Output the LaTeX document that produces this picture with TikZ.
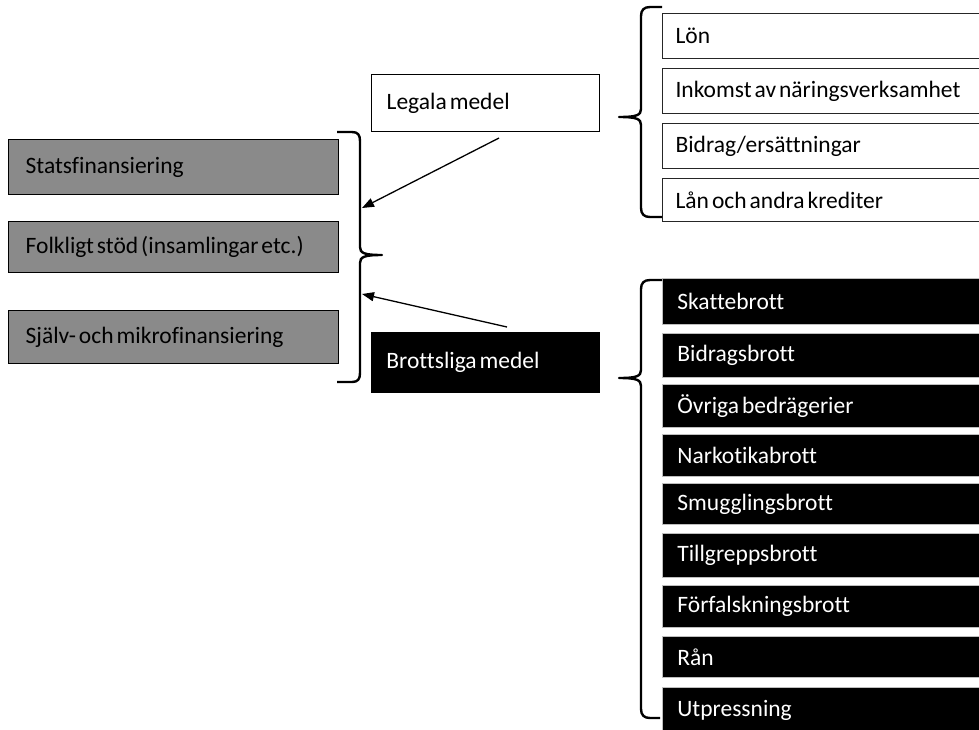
\documentclass[tikz,border=0pt]{standalone}
\usepackage{fontspec}
\setmainfont{Carlito}[Ligatures={NoCommon}]
\usetikzlibrary{arrows.meta}
\definecolor{boxgrey}{RGB}{138,138,138}
\definecolor{edgegrey}{RGB}{190,190,190}
\newcommand{\tightspacing}{\spaceskip=3pt plus 0.5pt\relax\xspaceskip=3pt plus 0.5pt\relax}
\tikzset{
  basebox/.style={anchor=north west, inner ysep=0pt, align=left,
    font=\fontsize{23.5}{27}\selectfont, execute at begin node=\tightspacing},
  greybox/.style={basebox, fill=boxgrey, draw=black, line width=1.4pt, text=black},
  whitebox/.style={basebox, fill=white, draw=black!85, line width=1.1pt, text=black},
  blackbox/.style={basebox, fill=black, draw=edgegrey, line width=0.8pt, text=white},
  bracestyle/.style={draw=black, line width=2.4pt, line join=round},
  conn/.style={draw=black, line width=1.3pt, -{Triangle[length=12pt,width=9pt]}}
}
\begin{document}
\begin{tikzpicture}[x=1pt,y=-1pt]
\useasboundingbox (0,0) rectangle (979,729);
% left grey boxes
\node[greybox, text width=296pt, inner xsep=17pt, minimum height=55pt] (stats) at (8,139) {Statsfinansiering};
\node[greybox, text width=296pt, inner xsep=17pt, minimum height=51pt] (folk) at (8,221) {Folkligt stöd (insamlingar etc.)};
\node[greybox, text width=296pt, inner xsep=17pt, minimum height=53pt] (sjalv) at (8,310) {Själv- och mikrofinansiering};
% middle boxes
\node[whitebox, draw=black, line width=1.3pt, text width=198pt, inner xsep=15pt, minimum height=57pt] (legal) at (371,74) {Legala medel};
\node[blackbox, draw=black, text width=198pt, inner xsep=15pt, minimum height=60pt] (brott) at (371,332) {Brottsliga medel};
% top right white boxes
\node[whitebox, text width=304pt, inner xsep=13pt, minimum height=45pt] (lon) at (662,13) {Lön};
\node[whitebox, text width=304pt, inner xsep=13pt, minimum height=45pt] (inkomst) at (662,68) {Inkomst av näringsverksamhet};
\node[whitebox, text width=304pt, inner xsep=13pt, minimum height=45pt] (bidrag) at (662,123) {Bidrag/ersättningar};
\node[whitebox, text width=304pt, inner xsep=13pt, minimum height=43pt] (lan) at (662,178) {Lån och andra krediter};
% bottom right black boxes
\node[blackbox, text width=300pt, inner xsep=15pt, minimum height=46pt] (skatte) at (662,278) {Skattebrott};
\node[blackbox, text width=300pt, inner xsep=15pt, minimum height=44pt] (bidragsb) at (662,333) {Bidragsbrott};
\node[blackbox, text width=300pt, inner xsep=15pt, minimum height=43pt] (ovriga) at (662,384) {Övriga bedrägerier};
\node[blackbox, text width=300pt, inner xsep=15pt, minimum height=42pt] (narko) at (662,434) {Narkotikabrott};
\node[blackbox, text width=300pt, inner xsep=15pt, minimum height=41pt] (smugg) at (662,483) {Smugglingsbrott};
\node[blackbox, text width=300pt, inner xsep=15pt, minimum height=44pt] (tillg) at (662,533) {Tillgreppsbrott};
\node[blackbox, text width=300pt, inner xsep=15pt, minimum height=42pt] (forf) at (662,585) {Förfalskningsbrott};
\node[blackbox, text width=300pt, inner xsep=15pt, minimum height=41pt] (ran) at (662,636) {Rån};
\node[blackbox, text width=300pt, inner xsep=15pt, minimum height=46pt] (utpr) at (662,687) {Utpressning};
% left brace "}"
\draw[bracestyle] (337,132) -- (352,132) .. controls (358,132) and (360,135) .. (360,141)
  -- (360,247) .. controls (360,253) and (364,255) .. (382,255)
  .. controls (364,255) and (360,257) .. (360,263)
  -- (360,373) .. controls (360,379) and (358,382) .. (352,382) -- (337,382);
% top right brace "{"
\draw[bracestyle] (662,7) -- (650,7) .. controls (644,7) and (641,10) .. (641,16)
  -- (641,109) .. controls (641,115) and (637,117) .. (619,117)
  .. controls (637,117) and (641,119) .. (641,125)
  -- (641,208) .. controls (641,214) and (644,217) .. (650,217) -- (662,217);
% bottom right brace "{"
\draw[bracestyle] (662,280) -- (650,280) .. controls (644,280) and (641,283) .. (641,289)
  -- (641,370) .. controls (641,376) and (637,378) .. (619,378)
  .. controls (637,378) and (641,380) .. (641,386)
  -- (641,709) .. controls (641,715) and (644,718) .. (650,718) -- (660,718);
% arrows
\coordinate (legalstart) at (499,138);
\coordinate (legalend) at (362,208);
\coordinate (brottstart) at (507,327);
\coordinate (brottend) at (362,294);
\draw[conn] (legalstart) -- (legalend);
\draw[conn] (brottstart) -- (brottend);
\end{tikzpicture}
\end{document}
